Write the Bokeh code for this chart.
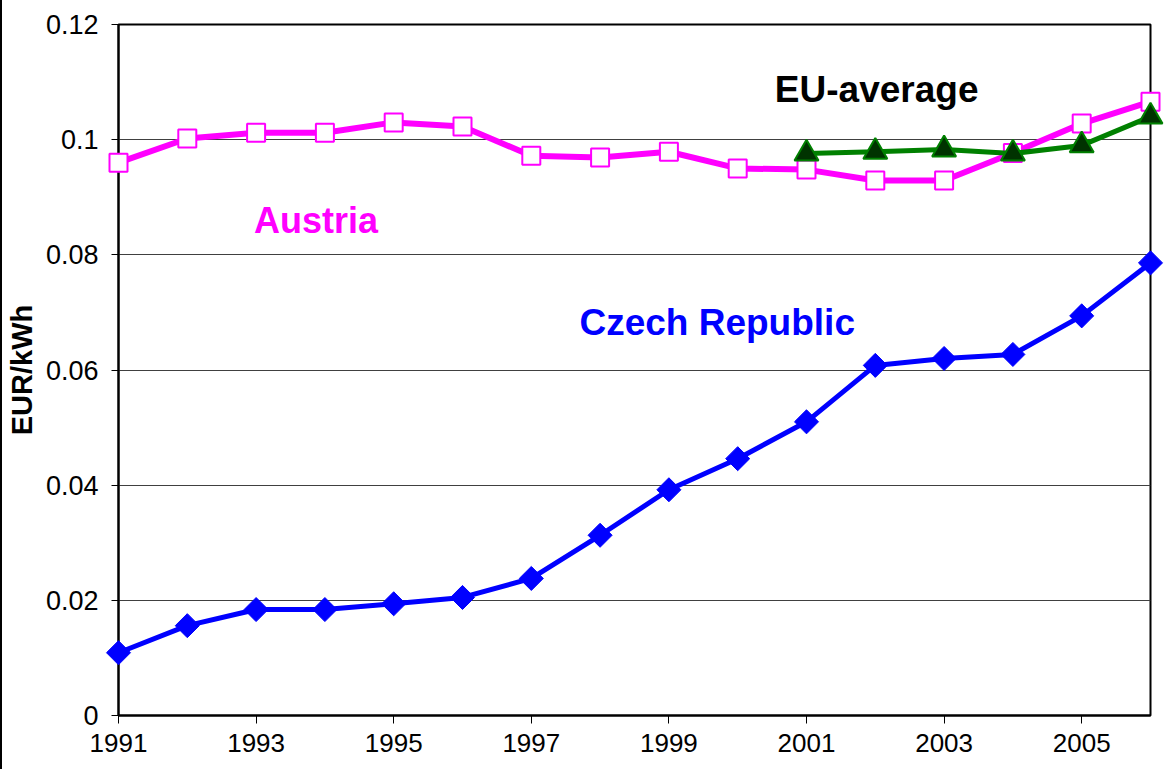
import numpy as np
from bokeh.plotting import figure
from bokeh.models import FixedTicker, Label
from bokeh.embed import file_html
from bokeh.resources import INLINE

years = list(range(1991, 2007))
austria = [0.0960, 0.1002, 0.1012, 0.1012, 0.1030, 0.1023, 0.0972, 0.0969,
           0.0979, 0.0950, 0.0948, 0.0929, 0.0929, 0.0977, 0.1028, 0.1066]
czech = [0.0109, 0.0156, 0.0184, 0.0184, 0.0194, 0.0205, 0.0238, 0.0313,
         0.0392, 0.0446, 0.0510, 0.0608, 0.0620, 0.0627, 0.0694, 0.0786]
eu_years = [2001, 2002, 2003, 2004, 2005, 2006]
eu_avg = [0.0976, 0.0979, 0.0983, 0.0976, 0.0990, 0.1040]

y_ticks = [0, 0.02, 0.04, 0.06, 0.08, 0.10, 0.12]
y_tick_labels = ["0", "0.02", "0.04", "0.06", "0.08", "0.1", "0.12"]
x_ticks = [1991, 1993, 1995, 1997, 1999, 2001, 2003, 2005]

FONT = "Liberation Sans"

p = figure(width=1171, height=769, output_backend="svg", toolbar_location=None,
           x_range=(1991, 2006), y_range=(0, 0.12),
           min_border_left=116, min_border_top=24, min_border_right=23,
           min_border_bottom=54)
p.styles = {"border-left": "2px solid black"}
p.background_fill_color = "white"
p.border_fill_color = "white"
p.outline_line_color = "black"
p.outline_line_width = 2

# grid
p.xgrid.visible = False
p.ygrid.ticker = FixedTicker(ticks=y_ticks)
p.ygrid.grid_line_color = "#404040"
p.ygrid.grid_line_width = 1

# axes
p.yaxis.ticker = FixedTicker(ticks=y_ticks)
p.yaxis.major_label_overrides = {t: l for t, l in zip(y_ticks, y_tick_labels)}
p.yaxis.minor_tick_line_color = None
p.yaxis.major_tick_in = 0
p.yaxis.major_tick_out = 7
p.yaxis.major_label_standoff = 13
p.yaxis.axis_line_color = "black"
p.yaxis.axis_line_width = 2
p.yaxis.major_tick_line_width = 1
p.yaxis.major_label_text_font = FONT
p.yaxis.major_label_text_font_size = "27px"
p.yaxis.major_label_text_color = "black"
p.yaxis.axis_label = "EUR/kWh"
p.yaxis.axis_label_text_font = FONT
p.yaxis.axis_label_text_font_style = "bold"
p.yaxis.axis_label_text_font_size = "29px"
p.yaxis.axis_label_text_color = "black"
p.yaxis.axis_label_standoff = 5

p.xaxis.ticker = FixedTicker(ticks=x_ticks)
p.xaxis.minor_tick_line_color = None
p.xaxis.major_tick_in = 0
p.xaxis.major_tick_out = 8
p.xaxis.major_label_standoff = 10
p.xaxis.axis_line_color = "black"
p.xaxis.axis_line_width = 2
p.xaxis.major_label_text_font = FONT
p.xaxis.major_label_text_font_size = "26px"
p.xaxis.major_label_text_color = "black"

# Czech Republic
p.line(years, czech, line_color="#0000FF", line_width=5, level="overlay")
p.scatter(years, czech, marker="square", angle=np.pi / 4, size=17,
          fill_color="#0000FF", line_color="#0000FF", line_width=1, level="overlay")

# Austria
p.line(years, austria, line_color="#FF00FF", line_width=6, level="overlay")
p.scatter(years, austria, marker="square", size=18, fill_color="white",
          line_color="#FF00FF", line_width=2, level="overlay")

# EU average
p.line(eu_years, eu_avg, line_color="#008000", line_width=5, level="overlay")
p.scatter(eu_years, eu_avg, marker="triangle", size=24, fill_color="#003300",
          line_color="#008000", line_width=2, level="overlay")

# series labels
p.add_layout(Label(x=2000.54, y=0.1087, text="EU-average", text_color="black",
                   text_font=FONT, text_font_style="bold", text_font_size="37px",
                   text_baseline="alphabetic"))
p.add_layout(Label(x=1992.97, y=0.0860, text="Austria", text_color="#FF00FF",
                   text_font=FONT, text_font_style="bold", text_font_size="36px",
                   text_baseline="alphabetic"))
p.add_layout(Label(x=1997.70, y=0.0683, text="Czech Republic", text_color="#0000FF",
                   text_font=FONT, text_font_style="bold", text_font_size="37px",
                   text_baseline="alphabetic"))

open("out.html", "w").write(file_html(p, INLINE))
